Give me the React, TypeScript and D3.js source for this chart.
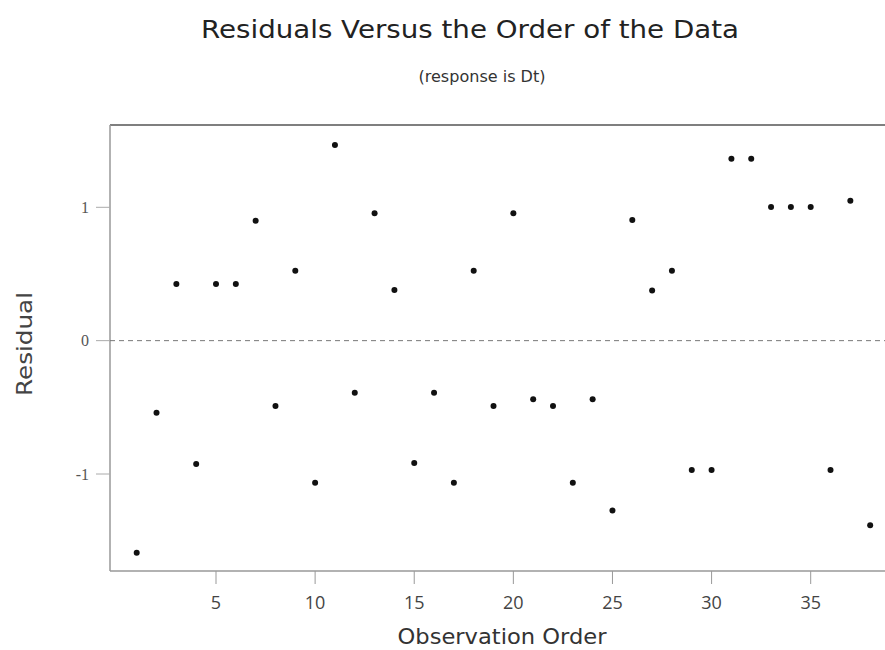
import React from "react";
import * as d3 from "d3";

const observationOrder: number[] = Array.from({ length: 38 }, (_, i) => i + 1);
const residuals: number[] = [
  -1.59, -0.54, 0.425, -0.925, 0.425, 0.425, 0.9, -0.49, 0.525, -1.065,
  1.468, -0.39, 0.955, 0.38, -0.918, -0.39, -1.065, 0.525, -0.49, 0.955,
  -0.44, -0.49, -1.065, -0.44, -1.273, 0.905, 0.377, 0.525, -0.97, -0.97,
  1.365, 1.365, 1.003, 1.003, 1.003, -0.97, 1.05, -1.385,
];
const xTicks: number[] = [5, 10, 15, 20, 25, 30, 35];
const yTicks: number[] = [-1, 0, 1];
const titleText = "Residuals Versus the Order of the Data";
const subtitleText = "(response is Dt)";
const xLabel = "Observation Order";
const yLabel = "Residual";

const W = 885;
const H = 650;
const SANS = "'DejaVu Sans', Verdana, sans-serif";

export default function App() {
  const left = 110;
  const top = 125;
  const bottom = 571;
  const right = 900;

  const x = d3.scaleLinear().domain([5, 35]).range([216, 810.7]);
  const y = d3.scaleLinear().domain([-1, 1]).range([474, 207.3]);

  return (
    <svg
      width={W}
      height={H}
      style={{ position: "absolute", left: 0, top: 0, background: "#fff" }}
      fontFamily={SANS}
    >
      <rect x={0} y={0} width={W} height={H} fill="#fff" />
      <text x={470} y={38} textAnchor="middle" fontSize={25} fill="#222" textLength={538} lengthAdjust="spacingAndGlyphs">
        {titleText}
      </text>
      <text x={482} y={82} textAnchor="middle" fontSize={16} fill="#333" textLength={127} lengthAdjust="spacingAndGlyphs">
        {subtitleText}
      </text>

      {/* frame */}
      <line x1={left} x2={right} y1={top} y2={top} stroke="#555" strokeWidth={1.5} />
      <line x1={left} x2={left} y1={top} y2={bottom} stroke="#999" strokeWidth={1.5} />
      <line x1={left} x2={right} y1={bottom} y2={bottom} stroke="#999" strokeWidth={1.5} />

      {/* zero reference line */}
      <line
        x1={left}
        x2={right}
        y1={y(0)}
        y2={y(0)}
        stroke="#777"
        strokeWidth={1}
        strokeDasharray="5,4"
      />

      {/* y ticks */}
      {yTicks.map((t) => (
        <g key={"y" + t}>
          <line x1={left - 14} x2={left} y1={y(t)} y2={y(t)} stroke="#aaa" strokeWidth={1} />
          <text
            x={89}
            y={y(t)}
            dy="0.36em"
            textAnchor="end"
            fontSize={16}
            fill="#555"
            fontFamily="'Liberation Serif', serif"
          >
            {t}
          </text>
        </g>
      ))}

      {/* x ticks */}
      {xTicks.map((t) => (
        <g key={"x" + t}>
          <line x1={x(t)} x2={x(t)} y1={bottom} y2={bottom + 13} stroke="#999" strokeWidth={1} />
          <text x={x(t)} y={609} textAnchor="middle" fontSize={18} fill="#444" fontFamily="'Open Sans', sans-serif">
            {t}
          </text>
        </g>
      ))}

      {/* axis labels */}
      <text x={502} y={644} textAnchor="middle" fontSize={21} fill="#333" textLength={209} lengthAdjust="spacingAndGlyphs">
        {xLabel}
      </text>
      <text
        transform={`translate(32,344) rotate(-90)`}
        textAnchor="middle"
        fontSize={21}
        fill="#444"
        textLength={104}
        lengthAdjust="spacingAndGlyphs"
      >
        {yLabel}
      </text>

      {/* points */}
      {residuals.map((r, i) => (
        <circle key={i} cx={x(observationOrder[i])} cy={y(r)} r={3} fill="#111" />
      ))}
    </svg>
  );
}
